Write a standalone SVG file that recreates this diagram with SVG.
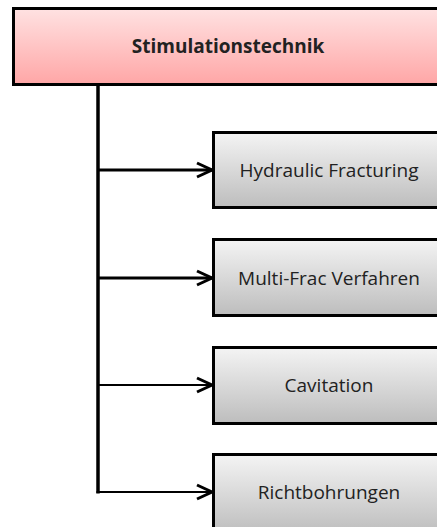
<svg xmlns="http://www.w3.org/2000/svg" width="437" height="527" viewBox="0 0 437 527">
<defs>
<linearGradient id="pink" x1="0" y1="0" x2="0" y2="1"><stop offset="0" stop-color="#ffe2e2"/><stop offset="1" stop-color="#ffa6a6"/></linearGradient>
<linearGradient id="gray" x1="0" y1="0" x2="0" y2="1"><stop offset="0" stop-color="#f4f4f4"/><stop offset="1" stop-color="#bdbdbd"/></linearGradient>
<marker id="arr" markerUnits="userSpaceOnUse" markerWidth="20" markerHeight="20" refX="16" refY="10" orient="auto"><path d="M1,3 L16,10 L1,17" fill="none" stroke="#000" stroke-width="3"/></marker>
</defs>
<style>
.box{stroke:#000;stroke-width:3}
.lbl{font-family:"Open Sans","Liberation Sans",sans-serif;font-size:19px;fill:#222;text-anchor:middle}
.c{fill:none;stroke:#000}
</style>
<rect width="437" height="527" fill="#fff"/>
<g id="connectors">
<path class="c" stroke-width="3.5" d="M98,85 V493.5"/>
<path class="c" stroke-width="3" marker-end="url(#arr)" d="M98,170 H212"/>
<path class="c" stroke-width="3" marker-end="url(#arr)" d="M98,278 H212"/>
<path class="c" stroke-width="2" marker-end="url(#arr)" d="M98,385 H212"/>
<path class="c" stroke-width="2" marker-end="url(#arr)" d="M96.5,492 H212"/>
</g>
<g id="n0"><rect class="box" x="13.5" y="8.5" width="435" height="76" fill="url(#pink)"/><text class="lbl" x="228" y="53" font-weight="bold" font-size="17">Stimulationstechnik</text></g>
<g id="n1"><rect class="box" x="213.5" y="132.5" width="232" height="75" fill="url(#gray)"/><text class="lbl" x="329" y="177">Hydraulic Fracturing</text></g>
<g id="n2"><rect class="box" x="213.5" y="239.5" width="232" height="76" fill="url(#gray)"/><text class="lbl" x="329" y="285">Multi-Frac Verfahren</text></g>
<g id="n3"><rect class="box" x="213.5" y="347.5" width="232" height="76" fill="url(#gray)"/><text class="lbl" x="329" y="392">Cavitation</text></g>
<g id="n4"><rect class="box" x="213.5" y="454.5" width="232" height="80" fill="url(#gray)"/><text class="lbl" x="329" y="499">Richtbohrungen</text></g>
</svg>
